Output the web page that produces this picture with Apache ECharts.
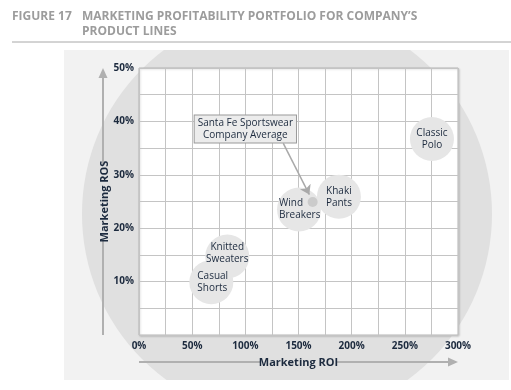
<!DOCTYPE html>
<html>
<head>
<meta charset="utf-8">
<script src="https://cdn.jsdelivr.net/npm/echarts@6/dist/echarts.min.js"></script>
<style>
html,body{margin:0;padding:0;background:#fff;}
#c{width:511px;height:390px;}
</style>
</head>
<body>
<div id="c"></div>
<script>
// ---- data ----
var productLines = ['Casual\nShorts', 'Knitted\nSweaters', 'Wind\nBreakers', 'Khaki\nPants', 'Classic\nPolo'];
var marketingROI = [68, 83, 150.5, 188, 275.5];   // %
var marketingROS = [9.9, 14.7, 23.5, 25.9, 36.7]; // %
var averageName = 'Santa Fe Sportswear\nCompany Average';
var averageROI = [163.3];
var averageROS = [24.9];
var annotationAt = [100, 38.6];
var arrowFrom = [135.7, 35.9];
var arrowTo = [160.2, 26.3];
var xTicks = [0, 50, 100, 150, 200, 250, 300];
var yTicks = [10, 20, 30, 40, 50];

// ---- layout ----
var G = {left: 139, top: 68, width: 319, height: 267};
var FONT = '"Open Sans", "Noto Sans", sans-serif';
var TXT = '#1c2a3e';
var ARROW = '#b0b0b0';

// label placement tweaks (relative to the 44px bubble box)
var labelPos = {
  'Casual\nShorts': {position: [8, 22], align: 'left', verticalAlign: 'middle'},
  'Knitted\nSweaters': {position: [22, 19], align: 'center', verticalAlign: 'middle'},
  'Wind\nBreakers': {position: [2, 22], align: 'left', verticalAlign: 'middle'}
};

var chart = echarts.init(document.getElementById('c'), null, {renderer: 'canvas'});

var bubbleData = productLines.map(function (n, i) {
  var d = {name: n, value: [marketingROI[i], marketingROS[i]]};
  if (labelPos[n]) d.label = labelPos[n];
  return d;
});
var avgData = averageROI.map(function (v, i) { return [v, averageROS[i]]; });

var gx0 = G.left, gx1 = G.left + G.width, gy0 = G.top, gy1 = G.top + G.height;
var yAxisX = 103, xAxisY = 362;

chart.setOption({
  animation: false,
  backgroundColor: '#ffffff',
  textStyle: {fontFamily: FONT},
  title: [
    {text: 'FIGURE 17', left: 12, top: 9, padding: 0,
     textStyle: {fontFamily: FONT, fontSize: 12, fontWeight: 'bold', color: '#9c9c9c', lineHeight: 15}},
    {text: 'MARKETING PROFITABILITY PORTFOLIO FOR COMPANY\u2019S\nPRODUCT LINES', left: 82, top: 9, padding: 0,
     textStyle: {fontFamily: FONT, fontSize: 12, fontWeight: 'bold', color: '#9c9c9c', lineHeight: 15}}
  ],
  graphic: [
    {type: 'rect', z: -10, shape: {x: 64, y: 50, width: 445, height: 330}, style: {fill: '#f2f2f2'}},
    {type: 'circle', z: -9, shape: {cx: 287, cy: 214, r: 205}, style: {fill: '#e0e0e0'}},
    // mask the circle outside the panel
    {type: 'rect', z: -8, shape: {x: 0, y: 0, width: 511, height: 50}, style: {fill: '#ffffff'}},
    {type: 'rect', z: -8, shape: {x: 0, y: 380, width: 511, height: 10}, style: {fill: '#ffffff'}},
    {type: 'rect', z: -8, shape: {x: 0, y: 50, width: 64, height: 330}, style: {fill: '#ffffff'}},
    {type: 'rect', z: -8, shape: {x: 509, y: 50, width: 2, height: 330}, style: {fill: '#ffffff'}},
    {type: 'line', z: -7, shape: {x1: 12, y1: 42, x2: 511, y2: 42}, style: {stroke: '#a8a8a8', lineWidth: 1}},
    // y axis arrow
    {type: 'line', z: -5, shape: {x1: yAxisX, y1: gy1, x2: yAxisX, y2: 239}, style: {stroke: ARROW, lineWidth: 2}},
    {type: 'line', z: -5, shape: {x1: yAxisX, y1: 164, x2: yAxisX, y2: gy0 + 8}, style: {stroke: ARROW, lineWidth: 2}},
    {type: 'polygon', z: -5, shape: {points: [[yAxisX - 4.5, gy0 + 10], [yAxisX + 4.5, gy0 + 10], [yAxisX, gy0]]}, style: {fill: ARROW}},
    // x axis arrow
    {type: 'line', z: -5, shape: {x1: gx0, y1: xAxisY, x2: 260, y2: xAxisY}, style: {stroke: ARROW, lineWidth: 2}},
    {type: 'line', z: -5, shape: {x1: 336, y1: xAxisY, x2: gx1 - 8, y2: xAxisY}, style: {stroke: ARROW, lineWidth: 2}},
    {type: 'polygon', z: -5, shape: {points: [[gx1 - 10, xAxisY - 4.5], [gx1 - 10, xAxisY + 4.5], [gx1, xAxisY]]}, style: {fill: ARROW}}
  ],
  grid: {left: G.left, top: G.top, width: G.width, height: G.height, show: true,
         backgroundColor: '#ffffff', borderColor: '#b8b8b8', borderWidth: 1,
         shadowColor: 'rgba(0,0,0,0.18)', shadowBlur: 2, shadowOffsetX: 1, shadowOffsetY: 1},
  xAxis: {
    type: 'value', min: 0, max: 300, interval: 25,
    name: 'Marketing ROI', nameLocation: 'middle', nameGap: 22, nameMoveOverlap: false,
    nameTextStyle: {fontFamily: FONT, fontSize: 11, fontWeight: 'bold', color: TXT},
    axisLine: {show: false}, axisTick: {show: false},
    axisLabel: {margin: 6, fontSize: 10, fontWeight: 'bold', color: TXT, fontFamily: FONT,
      formatter: function (v) { return xTicks.indexOf(v) >= 0 ? v + '%' : ''; }},
    splitLine: {show: true, lineStyle: {color: '#c4c4c4', width: 1}}
  },
  yAxis: {
    type: 'value', min: 0, max: 50, interval: 5,
    name: 'Marketing ROS', nameLocation: 'middle', nameGap: 29, nameRotate: 90, nameMoveOverlap: false,
    nameTextStyle: {fontFamily: FONT, fontSize: 11, fontWeight: 'bold', color: TXT},
    axisLine: {show: false}, axisTick: {show: false},
    axisLabel: {margin: 5, fontSize: 10, fontWeight: 'bold', color: TXT, fontFamily: FONT,
      formatter: function (v) { return yTicks.indexOf(v) >= 0 ? v + '%' : ''; }},
    splitLine: {show: true, lineStyle: {color: '#c4c4c4', width: 1}}
  },
  series: [
    {
      type: 'scatter', name: 'Product lines', z: 3,
      data: bubbleData, symbolSize: 44,
      itemStyle: {color: '#e6e6e6', opacity: 1},
      label: {show: true, position: 'inside', formatter: '{b}', color: TXT,
              fontSize: 10, lineHeight: 12, fontFamily: FONT}
    },
    {
      type: 'lines', coordinateSystem: 'cartesian2d', z: 4,
      data: [{coords: [arrowFrom, arrowTo]}],
      symbol: ['none', 'arrow'], symbolSize: 9,
      lineStyle: {color: '#a9a9a9', width: 1.5, opacity: 1}
    },
    {
      type: 'scatter', name: 'Company average', z: 5,
      data: avgData, symbolSize: 10,
      itemStyle: {color: '#cbcbcb', opacity: 1}
    },
    {
      type: 'scatter', name: 'Annotation', z: 6,
      data: [annotationAt], symbolSize: 1, itemStyle: {color: 'rgba(0,0,0,0)'},
      label: {show: true, position: 'inside', formatter: averageName, color: TXT,
              fontSize: 10, lineHeight: 12, fontFamily: FONT, align: 'center', opacity: 1,
              backgroundColor: '#ececec', borderColor: '#9a9a9a', borderWidth: 1,
              padding: [2, 3, 1, 3]}
    }
  ]
});
</script>
</body>
</html>
